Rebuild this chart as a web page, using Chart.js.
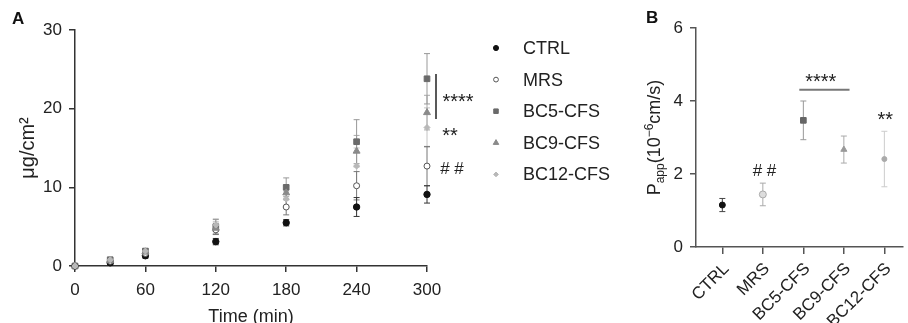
<!DOCTYPE html>
<html>
<head>
<meta charset="utf-8">
<script src="https://cdn.jsdelivr.net/npm/chart.js@4/dist/chart.umd.min.js"></script>
<style>
  html, body { margin: 0; padding: 0; background: #fff; }
  #wrap { position: relative; width: 908px; height: 323px; overflow: hidden; }
  #boxA { position: absolute; left: 0; top: 0; width: 620px; height: 323px; }
  #boxB { position: absolute; left: 620px; top: 0; width: 288px; height: 323px; }
  .tag { position: absolute; font: bold 17px "Liberation Sans", Arial, sans-serif; color: #111; }
</style>
</head>
<body>
<div id="wrap">
  <div id="boxA"><canvas id="chartA"></canvas></div>
  <div id="boxB"><canvas id="chartB"></canvas></div>
  <div class="tag" style="left:12px;top:9px">A</div>
  <div class="tag" style="left:646px;top:8px">B</div>
</div>
<script>
// Panel A: cumulative transport over time (mean and SD)
const timePoints = [0, 30, 60, 120, 180, 240, 300];
const ctrlMean = [0, 0.4, 1.3, 3.1, 5.5, 7.5, 9.1];
const ctrlSd   = [0, 0.2, 0.3, 0.4, 0.4, 1.2, 1.1];
const mrsMean  = [0, 0.6, 1.6, 4.6, 7.5, 10.2, 12.7];
const mrsSd    = [0, 0.2, 0.3, 0.6, 1.0, 1.8, 2.5];
const bc5Mean  = [0, 0.8, 1.9, 5.0, 10.0, 15.8, 23.8];
const bc5Sd    = [0, 0.2, 0.3, 0.9, 1.2, 2.8, 3.2];
const bc9Mean  = [0, 0.7, 1.8, 4.8, 9.3, 14.6, 19.5];
const bc9Sd    = [0, 0.2, 0.3, 0.8, 0.9, 2.0, 2.2];
const bc12Mean = [0, 0.8, 1.9, 5.2, 8.5, 12.7, 17.6];
const bc12Sd   = [0, 0.2, 0.3, 0.8, 1.0, 2.3, 2.5];
const legendOrder = ['CTRL', 'MRS', 'BC5-CFS', 'BC9-CFS', 'BC12-CFS'];

// Panel B: apparent permeability per group
const groups   = ['CTRL', 'MRS', 'BC5-CFS', 'BC9-CFS', 'BC12-CFS'];
const pappMean = [1.15, 1.44, 3.47, 2.67, 2.41];
const pappSd   = [0.18, 0.31, 0.53, 0.37, 0.76];

const FONT = '"Liberation Sans", Arial, sans-serif';
Chart.defaults.font.family = FONT;
const ink = '#333';

// error bars drawn behind the markers
const errorBars = {
  id: 'errorBars',
  beforeDatasetsDraw(chart) {
    const { ctx } = chart;
    const yScale = chart.scales.y;
    chart.data.datasets.forEach((ds, i) => {
      const meta = chart.getDatasetMeta(i);
      meta.data.forEach((pt, j) => {
        const sd = ds.sd[j];
        if (!sd) return;
        const v = ds.data[j].y;
        const top = yScale.getPixelForValue(v + sd);
        const bot = yScale.getPixelForValue(v - sd);
        ctx.save();
        ctx.strokeStyle = Array.isArray(ds.errColor) ? ds.errColor[j] : ds.errColor;
        ctx.lineWidth = 1;
        ctx.beginPath();
        ctx.moveTo(pt.x, top); ctx.lineTo(pt.x, bot);
        ctx.moveTo(pt.x - 3, top); ctx.lineTo(pt.x + 3, top);
        ctx.moveTo(pt.x - 3, bot); ctx.lineTo(pt.x + 3, bot);
        ctx.stroke();
        ctx.restore();
      });
    });
  }
};

// legend placed to the right of panel A
const sideLegend = {
  id: 'sideLegend',
  afterDraw(chart, args, opts) {
    if (!opts.order) return;
    const { ctx } = chart;
    opts.order.forEach((name, i) => {
      const ds = chart.data.datasets.find(d => d.label === name);
      const y = opts.top + i * opts.gap;
      ctx.save();
      ctx.fillStyle = ds.backgroundColor;
      ctx.strokeStyle = ds.borderColor;
      ctx.lineWidth = 1;
      Chart.helpers.drawPoint(ctx, { pointStyle: ds.pointStyle, radius: ds.pointRadius * 0.8, borderWidth: 1, rotation: 0 }, opts.x, y);
      ctx.fillStyle = '#222';
      ctx.font = '18px ' + FONT;
      ctx.textBaseline = 'middle';
      ctx.fillText(ds.label, opts.x + 27, y + 1);
      ctx.restore();
    });
  }
};

// significance marks, placed in data coordinates
const sigMarks = {
  id: 'sigMarks',
  afterDraw(chart, args, opts) {
    if (!opts.items) return;
    const { ctx } = chart;
    const xs = chart.scales.x, ys = chart.scales.y;
    opts.items.forEach(it => {
      ctx.save();
      if (it.type === 'line') {
        ctx.strokeStyle = it.color;
        ctx.lineWidth = it.width;
        ctx.beginPath();
        ctx.moveTo(xs.getPixelForValue(it.x1) + (it.dx || 0), ys.getPixelForValue(it.y1));
        ctx.lineTo(xs.getPixelForValue(it.x2) + (it.dx || 0), ys.getPixelForValue(it.y2));
        ctx.stroke();
      } else {
        ctx.fillStyle = '#222';
        ctx.font = it.size + 'px ' + FONT;
        ctx.textAlign = 'center';
        ctx.textBaseline = 'alphabetic';
        ctx.fillText(it.text, xs.getPixelForValue(it.x) + (it.dx || 0), ys.getPixelForValue(it.y) + it.rise * it.size);
      }
      ctx.restore();
    });
  }
};

// P_app title with sub/superscripts
const pappTitle = {
  id: 'pappTitle',
  afterDraw(chart, args, opts) {
    if (!opts.show) return;
    const { ctx, chartArea } = chart;
    const parts = [
      { t: 'P', size: 18, dy: 0 },
      { t: 'app', size: 12, dy: 4 },
      { t: '(10', size: 18, dy: 0 },
      { t: '\u22126', size: 12, dy: -7 },
      { t: 'cm/s)', size: 18, dy: 0 }
    ];
    ctx.save();
    let total = 0;
    parts.forEach(p => { ctx.font = p.size + 'px ' + FONT; p.w = ctx.measureText(p.t).width; total += p.w; });
    ctx.translate(opts.x, (chartArea.top + chartArea.bottom) / 2);
    ctx.rotate(-Math.PI / 2);
    ctx.fillStyle = '#222';
    ctx.textBaseline = 'alphabetic';
    let x = -total / 2;
    parts.forEach(p => { ctx.font = p.size + 'px ' + FONT; ctx.fillText(p.t, x, p.dy); x += p.w; });
    ctx.restore();
  }
};

function series(label, mean, sd, style) {
  return Object.assign({
    label,
    data: timePoints.map((t, i) => ({ x: t, y: mean[i] })),
    sd,
    borderWidth: 1,
    clip: false
  }, style);
}

new Chart(document.getElementById('chartA'), {
  type: 'scatter',
  data: {
    datasets: [
      series('BC12-CFS', bc12Mean, bc12Sd, { pointStyle: 'rectRot', pointRadius: 3, backgroundColor: '#b8b8b8', borderColor: '#b8b8b8', errColor: '#c4c4c4' }),
      series('BC9-CFS', bc9Mean, bc9Sd, { pointStyle: 'triangle', pointRadius: 4, backgroundColor: '#8a8a8a', borderColor: '#8a8a8a', errColor: '#aaa' }),
      series('BC5-CFS', bc5Mean, bc5Sd, { pointStyle: 'rect', pointRadius: 4, backgroundColor: '#6a6a6a', borderColor: '#6a6a6a', errColor: '#999' }),
      series('MRS', mrsMean, mrsSd, { pointStyle: 'circle', pointRadius: 3, backgroundColor: '#fff', borderColor: '#555', errColor: '#777' }),
      series('CTRL', ctrlMean, ctrlSd, { pointStyle: 'circle', pointRadius: 3.2, backgroundColor: '#111', borderColor: '#111', errColor: '#333' })
    ]
  },
  options: {
    responsive: true,
    maintainAspectRatio: false,
    animation: false,
    layout: { padding: { top: 30, right: 193, left: 0, bottom: 0 } },
    plugins: {
      legend: { display: false },
      tooltip: { enabled: false },
      sideLegend: { order: legendOrder, x: 496, top: 48, gap: 31.6 },
      sigMarks: {
        items: [
          { type: 'line', x1: 300, x2: 300, dx: 9, y1: 24.4, y2: 18.7, color: '#222', width: 1.5 },
          { type: 'text', text: '****', x: 300, dx: 31, y: 21.5, size: 20, rise: 0.58 },
          { type: 'text', text: '**', x: 300, dx: 23, y: 17.3, size: 20, rise: 0.58 },
          { type: 'text', text: '# #', x: 300, dx: 25, y: 12.45, size: 17, rise: 0.36 }
        ]
      }
    },
    scales: {
      x: {
        type: 'linear', min: 0, max: 300,
        ticks: { stepSize: 60, color: '#222', font: { size: 17 }, padding: 8, maxRotation: 0 },
        grid: { drawOnChartArea: false, color: ink, lineWidth: 1.5, tickLength: 6 },
        border: { color: ink, width: 1.5 },
        title: { display: true, text: 'Time (min)', color: '#222', font: { size: 18, lineHeight: 1 }, padding: { top: 0, bottom: -3 } },
        afterFit(s) { s.height = 57; }
      },
      y: {
        min: 0, max: 30,
        ticks: { stepSize: 10, color: '#222', font: { size: 17 }, padding: 7 },
        grid: { drawOnChartArea: false, color: ink, lineWidth: 1.5, tickLength: 6 },
        border: { color: ink, width: 1.5 },
        title: { display: true, text: 'μg/cm²', color: '#222', font: { size: 20, lineHeight: 1 }, padding: { top: 18, bottom: 0 } },
        afterFit(s) { s.width = 75; }
      }
    }
  },
  plugins: [errorBars, sideLegend, sigMarks]
});

new Chart(document.getElementById('chartB'), {
  type: 'scatter',
  data: {
    datasets: [{
      label: 'Papp',
      data: groups.map((g, i) => ({ x: i, y: pappMean[i] })),
      sd: pappSd,
      errColor: ['#444', '#aaa', '#999', '#aaa', '#ccc'],
      pointStyle: ['circle', 'circle', 'rect', 'triangle', 'circle'],
      pointRadius: [3, 3.5, 4, 3.5, 2.5],
      backgroundColor: ['#111', '#ddd', '#666', '#999', '#aaa'],
      borderColor: ['#111', '#aaa', '#666', '#999', '#aaa'],
      borderWidth: 1,
      clip: false
    }]
  },
  options: {
    responsive: true,
    maintainAspectRatio: false,
    animation: false,
    layout: { padding: { top: 28, right: 0, left: 0, bottom: 0 } },
    plugins: {
      legend: { display: false },
      tooltip: { enabled: false },
      pappTitle: { show: true, x: 40 },
      sigMarks: {
        items: [
          { type: 'line', x1: 1.9, x2: 3.14, y1: 4.31, y2: 4.31, color: '#777', width: 2 },
          { type: 'text', text: '****', x: 2.43, y: 4.68, size: 20, rise: 0.58 },
          { type: 'text', text: '**', x: 4.02, y: 3.62, size: 20, rise: 0.58 },
          { type: 'text', text: '# #', x: 1.04, y: 2.11, size: 17, rise: 0.36 }
        ]
      }
    },
    scales: {
      x: {
        type: 'linear', min: -0.65, max: 4.46,
        afterBuildTicks(s) { s.ticks = groups.map((g, i) => ({ value: i })); },
        ticks: { callback: v => groups[v], minRotation: 45, maxRotation: 45, color: '#222', font: { size: 17 }, padding: 5, labelOffset: 4, autoSkip: false },
        grid: { drawOnChartArea: false, color: '#555', lineWidth: 1.5, tickLength: 7 },
        border: { color: '#555', width: 1.5 },
        afterFit(s) { s.height = 76; }
      },
      y: {
        min: 0, max: 6,
        ticks: { stepSize: 2, color: '#222', font: { size: 17 }, padding: 7 },
        grid: { drawOnChartArea: false, color: '#555', lineWidth: 1.5, tickLength: 6 },
        border: { color: '#555', width: 1.5 },
        afterFit(s) { s.width = 76; }
      }
    }
  },
  plugins: [errorBars, pappTitle, sigMarks]
});
</script>
</body>
</html>
